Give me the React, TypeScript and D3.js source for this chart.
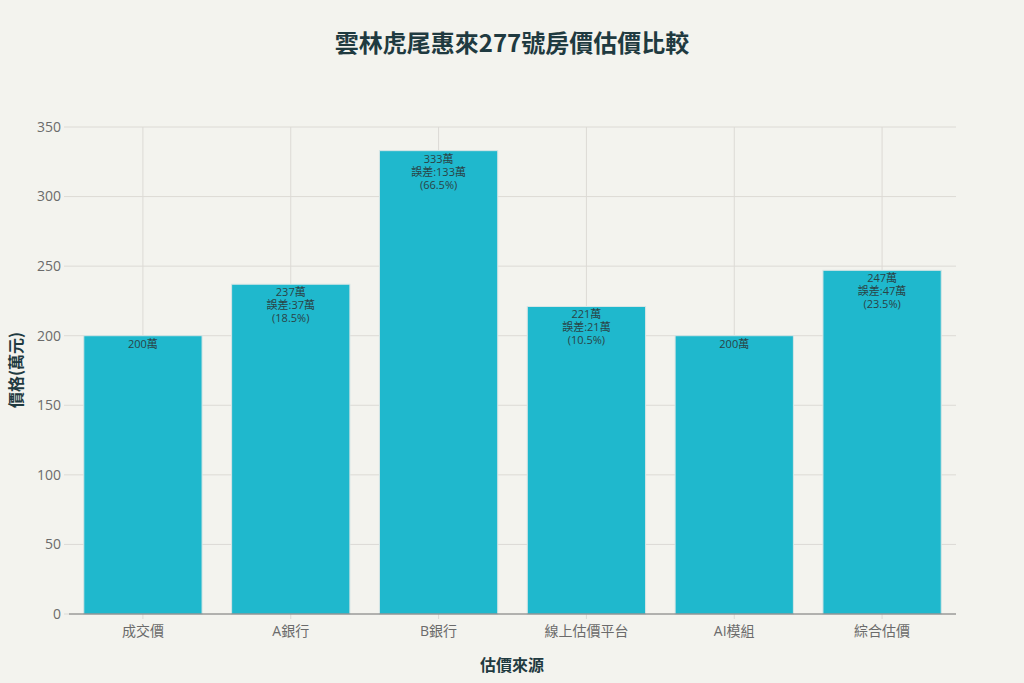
import React from "react";
import * as d3 from "d3";

const categories = ["成交價", "A銀行", "B銀行", "線上估價平台", "AI模組", "綜合估價"];
const values = [200, 237, 333, 221, 200, 247];
const errorLabels = ["", "誤差:37萬", "誤差:133萬", "誤差:21萬", "", "誤差:47萬"];
const pctLabels = ["", "(18.5%)", "(66.5%)", "(10.5%)", "", "(23.5%)"];
const yTicks = [0, 50, 100, 150, 200, 250, 300, 350];

const W = 1024;
const H = 683;
const m = { left: 69, right: 956, top: 127, bottom: 614 };
const CJK = "'Noto Sans CJK TC', 'Noto Sans', sans-serif";
const LAT = "'Open Sans', 'Noto Sans CJK TC', sans-serif";

export default function App() {
  const x = d3.scaleBand<string>().domain(categories).range([m.left, m.right]).paddingInner(0.2).paddingOuter(0.1);
  const y = d3.scaleLinear().domain([0, 350]).range([m.bottom, m.top]);
  const bw = x.bandwidth();
  return (
    <svg width={W} height={H} style={{ position: "absolute", left: 0, top: 0, background: "#F3F3EE", fontFamily: CJK }}>
      <rect x={0} y={0} width={W} height={H} fill="#F3F3EE" />
      <text x={512} y={52} textAnchor="middle" fontSize={24} fontWeight={700} fill="#1F3A40">
        雲林虎尾惠來277號房價估價比較
      </text>
      {yTicks.map((t) => (
        <g key={t}>
          {t > 0 && <line x1={m.left} x2={m.right} y1={y(t)} y2={y(t)} stroke="#DCDAD5" strokeWidth={1} />}
          <line x1={m.left - 5} x2={m.left} y1={y(t)} y2={y(t)} stroke="#DCDAD5" />
          <text x={m.left - 8} y={y(t)} dy="0.35em" textAnchor="end" fontSize={14} fill="#6B6B6B" fontFamily={LAT}>
            {t}
          </text>
        </g>
      ))}
      {categories.map((c) => {
        const cx = (x(c) as number) + bw / 2;
        return (
          <g key={c}>
            <line x1={cx} x2={cx} y1={m.top} y2={m.bottom} stroke="#DCDAD5" />
            <line x1={cx} x2={cx} y1={m.bottom} y2={m.bottom + 5} stroke="#DCDAD5" />
            <text x={cx} y={m.bottom + 22} textAnchor="middle" fontSize={14} fill="#6B6B6B" fontFamily={LAT}>
              {c}
            </text>
          </g>
        );
      })}
      {categories.map((c, i) => {
        const bx = x(c) as number;
        const cx = bx + bw / 2;
        const top = y(values[i]);
        const lines = [values[i] + "萬", errorLabels[i], pctLabels[i]].filter((s) => s);
        return (
          <g key={c}>
            <rect x={bx} y={top} width={bw} height={m.bottom - top} fill="#1FB8CD" stroke="#D6E5E5" strokeWidth={1} />
            {lines.map((s, k) => (
              <text key={k} x={cx} y={top + 12 + k * 13} textAnchor="middle" fontSize={11} fill="#2A4346" fontFamily={LAT}>
                {s}
              </text>
            ))}
          </g>
        );
      })}
      <line x1={m.left} x2={m.right} y1={m.bottom} y2={m.bottom} stroke="#6E6E6E" strokeWidth={1} />
      <text x={512} y={671} textAnchor="middle" fontSize={16} fontWeight={700} fill="#1F3A40">
        估價來源
      </text>
      <text transform={`translate(22,${370}) rotate(-90)`} textAnchor="middle" fontSize={16} fontWeight={700} fill="#1F3A40">
        價格(萬元)
      </text>
    </svg>
  );
}
